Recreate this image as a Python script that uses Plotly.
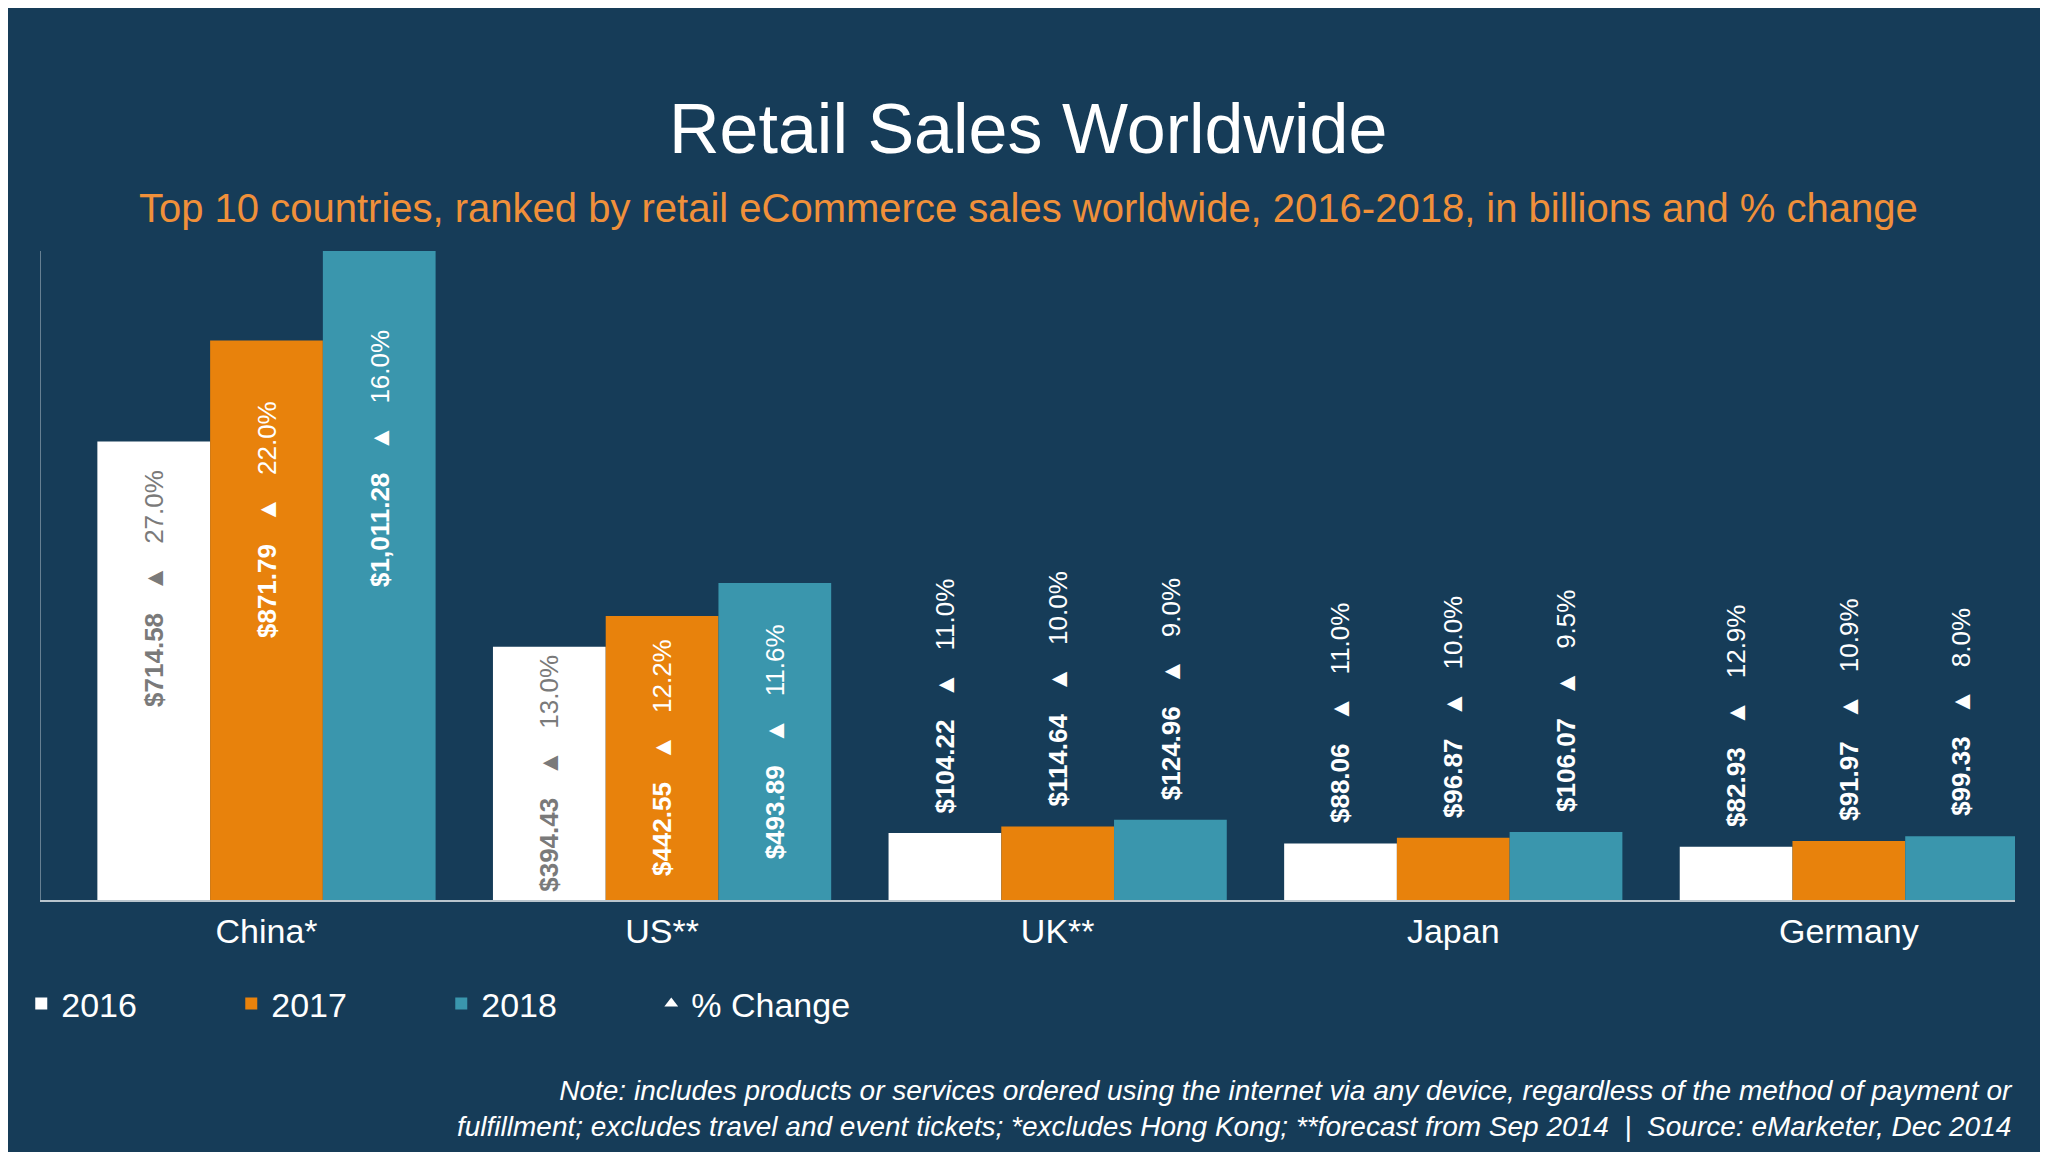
import plotly.graph_objects as go

countries = ["China*", "US**", "UK**", "Japan", "Germany"]
years = ["2016", "2017", "2018"]
sales = {
    "2016": [714.58, 394.43, 104.22, 88.06, 82.93],
    "2017": [871.79, 442.55, 114.64, 96.87, 91.97],
    "2018": [1011.28, 493.89, 124.96, 106.07, 99.33],
}
pct = {
    "2016": [27.0, 13.0, 11.0, 11.0, 12.9],
    "2017": [22.0, 12.2, 10.0, 10.0, 10.9],
    "2018": [16.0, 11.6, 9.0, 9.5, 8.0],
}
colors = {"2016": "#ffffff", "2017": "#e8820c", "2018": "#3a96ad"}
label_colors = {"2016": "#7a7a7a", "2017": "#ffffff", "2018": "#ffffff"}

fig = go.Figure()
for y in years:
    fig.add_bar(x=list(range(len(countries))), y=sales[y], name=y,
                marker_color=colors[y], marker_line_width=0)
fig.add_scatter(x=[None], y=[None], mode="markers", name="% Change",
                marker=dict(symbol="triangle-up", color="white", size=16))

W, H = 2048, 1152
ml, mr, mt, mb = 33, 41, 243, 260
plot_w = W - ml - mr
xr = [-0.57, 4.42]
cat_w = plot_w / (xr[1] - xr[0])
bargap = 0.145
bar_w = cat_w * (1 - bargap) / 3
offsets = [-bar_w, 0, bar_w]

for i, c in enumerate(countries):
    for j, y in enumerate(years):
        v = sales[y][i]
        txt = f"<b>${v:,.2f}</b>   ▲   {pct[y][i]:.1f}%"
        if v > 600:
            ann = dict(y=v * 0.68, yanchor="middle", yshift=0)
        elif v > 300:
            ann = dict(y=v / 2, yanchor="middle", yshift=0)
        else:
            ann = dict(y=v, yanchor="bottom", yshift=18)
        fig.add_annotation(x=i, xshift=offsets[j], text=txt, textangle=-90,
                           showarrow=False, xanchor="center",
                           font=dict(size=26, color=label_colors[y] if v > 300 else "white",
                                     family="Liberation Sans"), **ann)

ph = H - mt - mb
fig.add_annotation(text="Retail Sales Worldwide", xref="paper", yref="paper",
                   x=0.5, y=(H - 121 - mb) / ph, showarrow=False,
                   font=dict(size=70, color="white"), yanchor="middle")
fig.add_annotation(text="Top 10 countries, ranked by retail eCommerce sales worldwide, 2016-2018, in billions and % change",
                   xref="paper", yref="paper", x=0.5,
                   y=(H - 200 - mb) / ph, showarrow=False,
                   font=dict(size=40, color="#f0903a"), yanchor="middle")
fig.add_annotation(text="<i>Note: includes products or services ordered using the internet via any device, regardless of the method of payment or<br>fulfillment; excludes travel and event tickets; *excludes Hong Kong; **forecast from Sep 2014  |  Source: eMarketer, Dec 2014</i>",
                   xref="paper", yref="paper", x=1.0, xanchor="right", align="right",
                   y=(H - 1100 - mb) / ph, yanchor="middle", showarrow=False,
                   font=dict(size=28, color="white"))

fig.update_layout(
    width=W, height=H, barmode="group", bargap=bargap, bargroupgap=0,
    paper_bgcolor="#163c58", plot_bgcolor="rgba(0,0,0,0)",
    margin=dict(l=ml, r=mr, t=mt, b=mb),
    font=dict(family="Liberation Sans", color="white"),
    showlegend=True,
    legend=dict(orientation="h", x=-0.01, y=-0.16, yanchor="middle", xanchor="left",
                font=dict(size=34, color="white"), itemsizing="constant",
                entrywidth=165, bgcolor="rgba(0,0,0,0)"),
    xaxis=dict(range=xr, tickvals=list(range(len(countries))), ticktext=countries,
               showline=True, linecolor="rgba(255,255,255,0.7)", linewidth=2,
               tickfont=dict(size=34, color="white"), ticks="", showgrid=False,
               zeroline=False),
    yaxis=dict(range=[0, 1011.28], showticklabels=False, showgrid=False,
               zeroline=False, showline=True, linecolor="rgba(255,255,255,0.35)"),
)
fig.write_html("out.html")
